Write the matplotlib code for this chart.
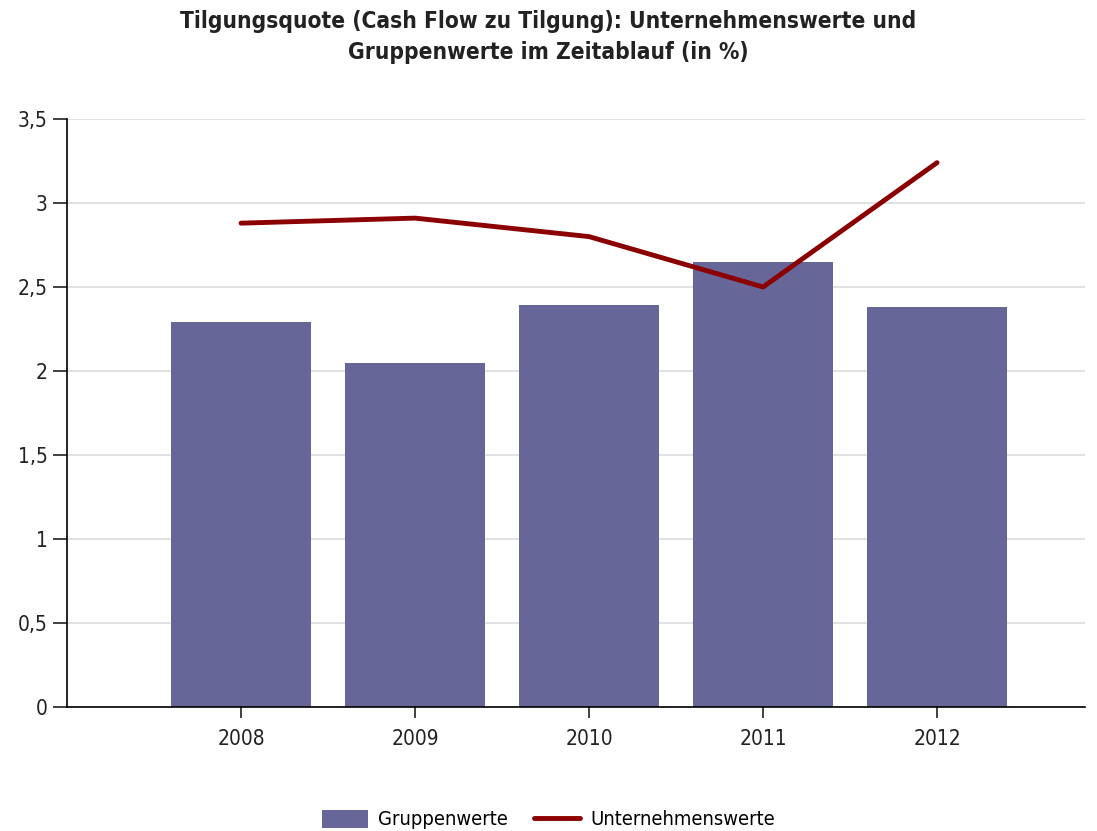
import matplotlib.pyplot as plt
import numpy as np

# data
years = ['2008', '2009', '2010', '2011', '2012']
gruppenwerte = [2.29, 2.05, 2.39, 2.65, 2.38]
unternehmenswerte = [2.88, 2.91, 2.80, 2.50, 3.24]
yticks = [0, 0.5, 1, 1.5, 2, 2.5, 3, 3.5]
ylabels = ['0', '0,5', '1', '1,5', '2', '2,5', '3', '3,5']

plt.rcParams['font.family'] = ['DejaVu Sans']
plt.rcParams['font.stretch'] = 'condensed'

fig = plt.figure(figsize=(10.97, 8.31), dpi=100)
ax = fig.add_axes([0.0611, 0.1492, 0.9279, 0.7076])

x = np.arange(len(years))
bars = ax.bar(x, gruppenwerte, width=0.8, color='#666699', zorder=2)
line, = ax.plot(x, unternehmenswerte, color='#8b0000', linewidth=3.5,
                zorder=3, solid_capstyle='round')

ax.set_xlim(-1.0, 4.85)
ax.set_ylim(0, 3.5)
ax.set_xticks(x)
ax.set_xticklabels(years, fontsize=15)
ax.set_yticks(yticks)
ax.set_yticklabels(ylabels, fontsize=15)
ax.yaxis.grid(True, color='#dddddd', linewidth=1.2, zorder=0)
ax.set_axisbelow(True)

for s in ['top', 'right']:
    ax.spines[s].set_visible(False)
ax.spines['left'].set_linewidth(1.2)
ax.spines['bottom'].set_linewidth(1.2)
ax.tick_params(axis='x', length=8, width=1.2, direction='out', pad=8, colors='#222222')
ax.tick_params(axis='y', length=10, width=1.2, direction='out', pad=4, colors='#222222')

fig.text(0.5, 0.988, 'Tilgungsquote (Cash Flow zu Tilgung): Unternehmenswerte und\nGruppenwerte im Zeitablauf (in %)',
         ha='center', va='top', fontsize=16.3, fontweight='bold', color='#222222', linespacing=1.45)

fig.legend([bars, line], ['Gruppenwerte', 'Unternehmenswerte'], loc='lower center',
           bbox_to_anchor=(0.5, -0.02), ncol=2, frameon=False, fontsize=14.5,
           handlelength=2.3, handleheight=1.0, columnspacing=1.3, handletextpad=0.5)

fig.savefig('out.png', dpi=100)
